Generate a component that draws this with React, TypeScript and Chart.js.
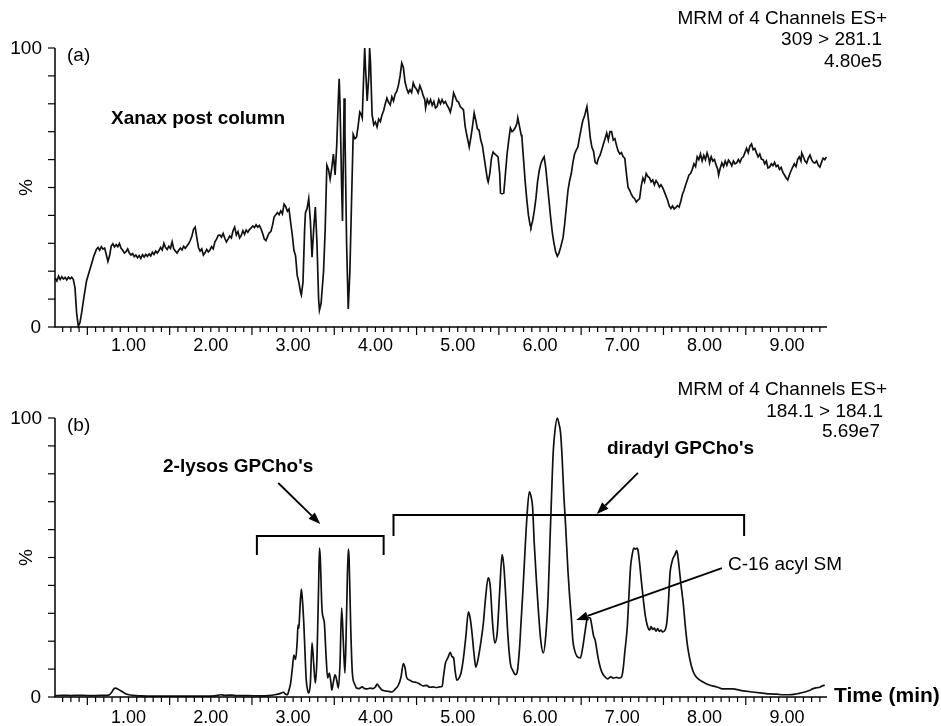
import React, { useEffect, useRef } from "react";
import { Chart, registerables } from "chart.js";

Chart.register(...registerables);

// ---------- DATA ----------
const topTime = [
  0.11, 0.13, 0.15, 0.17, 0.19, 0.21, 0.23, 0.25, 0.27, 0.29, 0.31, 0.33, 0.35, 0.37, 0.39, 0.41, 0.43, 0.46, 0.49, 0.52,
  0.55, 0.58, 0.61, 0.63, 0.65, 0.67, 0.69, 0.71, 0.73, 0.75, 0.77, 0.79, 0.81, 0.83, 0.85, 0.87, 0.89, 0.91, 0.93, 0.95,
  0.97, 0.99, 1.01, 1.03, 1.05, 1.07, 1.09, 1.11, 1.13, 1.15, 1.17, 1.19, 1.21, 1.23, 1.25, 1.27, 1.29, 1.31, 1.33, 1.35,
  1.37, 1.39, 1.41, 1.43, 1.45, 1.47, 1.49, 1.51, 1.53, 1.55, 1.57, 1.59, 1.61, 1.63, 1.65, 1.67, 1.69, 1.71, 1.73, 1.75,
  1.77, 1.79, 1.81, 1.83, 1.85, 1.87, 1.89, 1.91, 1.93, 1.95, 1.97, 1.99, 2.01, 2.03, 2.05, 2.07, 2.09, 2.11, 2.13, 2.15,
  2.17, 2.19, 2.21, 2.23, 2.25, 2.27, 2.29, 2.31, 2.33, 2.35, 2.37, 2.39, 2.41, 2.43, 2.45, 2.47, 2.49, 2.51, 2.53, 2.55,
  2.57, 2.59, 2.61, 2.63, 2.65, 2.67, 2.69, 2.71, 2.73, 2.75, 2.77, 2.79, 2.81, 2.83, 2.85, 2.87, 2.89, 2.91, 2.93, 2.95,
  2.97, 2.99, 3.01, 3.03, 3.05, 3.07, 3.09, 3.10, 3.12, 3.14, 3.15, 3.17, 3.19, 3.21, 3.23, 3.25, 3.27, 3.29, 3.31, 3.32,
  3.34, 3.37, 3.39, 3.41, 3.43, 3.45, 3.47, 3.49, 3.51, 3.53, 3.55, 3.56, 3.57, 3.59, 3.60, 3.61, 3.62, 3.63, 3.65, 3.67,
  3.69, 3.71, 3.73, 3.75, 3.77, 3.79, 3.81, 3.83, 3.84, 3.86, 3.87, 3.88, 3.90, 3.92, 3.93, 3.94, 3.96, 3.98, 4.00, 4.02,
  4.04, 4.06, 4.08, 4.10, 4.12, 4.14, 4.16, 4.18, 4.20, 4.22, 4.24, 4.26, 4.28, 4.30, 4.32, 4.34, 4.36, 4.38, 4.40, 4.42,
  4.44, 4.46, 4.48, 4.50, 4.52, 4.54, 4.56, 4.58, 4.60, 4.61, 4.63, 4.65, 4.67, 4.69, 4.71, 4.73, 4.75, 4.77, 4.79, 4.81,
  4.83, 4.85, 4.87, 4.89, 4.91, 4.93, 4.95, 4.97, 4.99, 5.01, 5.03, 5.05, 5.07, 5.09, 5.11, 5.13, 5.14, 5.16, 5.18, 5.20,
  5.22, 5.24, 5.26, 5.28, 5.30, 5.32, 5.34, 5.36, 5.37, 5.39, 5.41, 5.43, 5.45, 5.47, 5.49, 5.51, 5.52, 5.54, 5.56, 5.58,
  5.60, 5.62, 5.64, 5.66, 5.68, 5.70, 5.72, 5.73, 5.75, 5.77, 5.78, 5.80, 5.82, 5.84, 5.86, 5.88, 5.89, 5.91, 5.93, 5.95,
  5.97, 5.99, 6.01, 6.03, 6.05, 6.07, 6.09, 6.11, 6.13, 6.15, 6.17, 6.19, 6.21, 6.23, 6.25, 6.28, 6.30, 6.32, 6.34, 6.36,
  6.38, 6.40, 6.42, 6.44, 6.46, 6.48, 6.50, 6.52, 6.54, 6.57, 6.59, 6.61, 6.63, 6.65, 6.67, 6.69, 6.71, 6.73, 6.75, 6.77,
  6.79, 6.81, 6.83, 6.85, 6.87, 6.89, 6.91, 6.93, 6.95, 6.97, 6.99, 7.01, 7.03, 7.05, 7.07, 7.09, 7.11, 7.13, 7.15, 7.17,
  7.19, 7.21, 7.23, 7.25, 7.27, 7.29, 7.31, 7.33, 7.35, 7.37, 7.39, 7.41, 7.43, 7.45, 7.47, 7.49, 7.51, 7.53, 7.55, 7.57,
  7.59, 7.61, 7.63, 7.65, 7.67, 7.69, 7.71, 7.73, 7.75, 7.77, 7.79, 7.81, 7.83, 7.85, 7.87, 7.89, 7.91, 7.93, 7.95, 7.97,
  7.99, 8.01, 8.03, 8.05, 8.06, 8.08, 8.10, 8.12, 8.14, 8.16, 8.17, 8.19, 8.21, 8.23, 8.25, 8.27, 8.29, 8.31, 8.33, 8.35,
  8.37, 8.39, 8.41, 8.43, 8.45, 8.47, 8.49, 8.51, 8.53, 8.55, 8.57, 8.59, 8.61, 8.63, 8.65, 8.67, 8.69, 8.71, 8.73, 8.75,
  8.77, 8.79, 8.81, 8.83, 8.85, 8.87, 8.89, 8.91, 8.93, 8.95, 8.97, 8.99, 9.01, 9.03, 9.05, 9.07, 9.09, 9.11, 9.13, 9.15,
  9.17, 9.18, 9.20, 9.22, 9.24, 9.26, 9.28, 9.30, 9.32, 9.34, 9.36, 9.38, 9.40, 9.42, 9.44, 9.46, 9.48,
];
const topIntensity = [
  17.5, 16.5, 18.2, 17.0, 18.0, 17.2, 17.8, 16.9, 17.9, 17.3, 17.8, 17.0, 14.0, 5.0, 0.3, 1.5, 5.0, 11.0, 16.5, 19.5,
  22.5, 25.5, 27.8, 28.5, 27.5, 28.8, 27.9, 28.3, 26.0, 23.5, 25.5, 29.0, 29.8, 28.7, 29.5, 28.8, 29.9, 28.2, 27.5, 26.5,
  27.0, 28.0, 26.5, 25.8, 26.3, 25.2, 25.8, 24.8, 25.6, 24.6, 25.9, 25.1, 26.0, 25.3, 26.2, 25.5, 26.8, 26.0, 27.2, 26.5,
  27.4, 28.5, 27.6, 30.0, 28.5, 27.8, 28.9, 28.2, 30.5, 28.0, 27.2, 26.5, 27.5, 28.3, 27.6, 28.9, 28.2, 29.0, 29.8, 31.0,
  32.5, 35.0, 35.8, 32.0, 28.5, 27.2, 28.0, 25.8, 26.6, 27.8, 26.9, 27.6, 28.8, 28.0, 30.5, 31.5, 32.8, 33.0, 32.2, 33.5,
  31.8, 30.5, 31.5, 32.6, 31.9, 34.5, 35.8, 33.0, 34.2, 31.9, 32.8, 34.5, 33.2, 34.8, 34.0, 34.9, 35.5, 36.2, 35.6, 36.6,
  35.8, 36.4, 35.2, 33.5, 31.5, 31.0, 32.5, 33.8, 34.2, 36.5, 39.5, 40.2, 41.0, 40.3, 41.6, 40.5, 44.0, 43.2, 41.5, 42.3,
  37.5, 33.0, 27.5, 25.5, 18.5, 16.0, 12.5, 11.5, 16.0, 35.0, 41.0, 42.5, 46.0, 38.0, 25.0, 35.0, 43.0, 30.0, 10.0, 6.0,
  8.5, 20.0, 35.0, 58.0, 56.5, 53.0, 57.0, 62.0, 54.5, 65.0, 82.0, 89.0, 80.0, 50.0, 38.0, 60.0, 82.0, 70.0, 30.0, 6.5,
  20.0, 45.0, 69.0, 67.5, 68.0, 72.0, 77.0, 76.0, 75.0, 92.0, 100.0, 93.0, 81.0, 90.0, 100.0, 95.0, 76.0, 72.5, 73.5, 71.7,
  74.5, 73.6, 76.0, 77.5, 80.0, 82.0, 80.5, 79.6, 82.5, 81.0, 83.5, 84.5, 86.7, 90.0, 94.6, 93.0, 87.8, 85.5, 83.9, 85.0,
  84.0, 87.5, 86.0, 85.2, 83.9, 86.5, 85.0, 83.0, 81.5, 78.5, 81.5, 80.0, 81.5, 79.5, 80.8, 78.5, 79.0, 81.5, 80.0, 81.5,
  80.2, 80.8, 79.5, 78.5, 77.0, 79.5, 83.9, 82.5, 81.0, 80.6, 79.0, 78.5, 77.8, 72.0, 68.8, 66.0, 64.5, 68.0, 72.0, 76.7,
  74.0, 71.0, 70.5, 67.0, 65.0, 61.0, 57.0, 53.0, 52.0, 55.0, 60.5, 62.7, 62.0, 61.5, 61.0, 55.0, 48.0, 47.7, 48.0, 55.0,
  62.0, 67.0, 71.3, 70.0, 70.5, 71.5, 73.0, 75.0, 72.0, 69.0, 68.0, 60.0, 52.0, 45.5, 40.0, 36.5, 35.8, 38.0, 41.5, 46.0,
  52.0, 56.0, 58.5, 60.0, 61.0, 57.0, 51.0, 45.0, 39.0, 33.7, 30.0, 27.0, 25.4, 26.5, 28.5, 32.0, 37.0, 43.0, 49.0, 52.5,
  55.0, 59.0, 62.0, 63.4, 64.5, 68.0, 71.0, 74.0, 75.5, 79.0, 74.0, 68.0, 64.5, 63.0, 59.0, 58.5, 60.5, 61.6, 63.5, 65.5,
  67.5, 69.5, 67.0, 70.0, 70.0, 67.0, 67.5, 65.0, 63.0, 62.0, 62.5, 61.0, 60.5, 55.0, 50.0, 49.0, 47.5, 46.5, 46.0, 44.8,
  45.5, 46.0, 50.5, 53.4, 52.0, 55.0, 54.0, 53.5, 52.0, 52.7, 51.0, 52.5, 51.6, 50.2, 51.0, 50.0, 48.5, 47.0, 45.5, 43.4,
  42.5, 43.4, 42.3, 42.8, 43.5, 43.0, 45.0, 47.5, 49.0, 51.0, 52.7, 54.5, 55.0, 56.5, 58.5, 57.5, 61.0, 60.0, 62.0, 59.5,
  61.5, 60.0, 62.4, 60.5, 58.8, 61.0, 59.5, 60.0, 58.0, 56.5, 54.5, 57.0, 58.8, 57.5, 59.5, 58.0, 59.8, 59.0, 57.8, 59.5,
  58.5, 58.8, 60.0, 59.0, 60.5, 61.0, 62.5, 64.0, 62.5, 64.8, 65.6, 63.5, 64.0, 62.4, 61.0, 62.0, 60.2, 60.0, 58.5, 59.5,
  57.0, 57.3, 58.5, 57.8, 59.0, 57.5, 58.0, 56.5, 57.2, 55.5, 54.5, 53.5, 52.7, 54.5, 56.0, 57.3, 58.5, 57.5, 60.0, 61.0,
  59.5, 62.4, 61.0, 59.5, 58.8, 60.5, 61.6, 60.0, 59.0, 58.8, 59.5, 58.0, 57.3, 59.0, 60.5, 60.0, 61.0,
];

const bottomTime = [
  0.11, 0.2, 0.3, 0.4, 0.5, 0.6, 0.7, 0.76, 0.79, 0.82, 0.84, 0.87, 0.9, 0.94, 0.98, 1.05, 1.15, 1.3, 1.5, 1.7,
  1.9, 2.05, 2.12, 2.18, 2.25, 2.32, 2.45, 2.6, 2.7, 2.78, 2.84, 2.88, 2.91, 2.93, 2.95, 2.97, 2.99, 3.01, 3.03, 3.05,
  3.06, 3.07, 3.08, 3.10, 3.11, 3.13, 3.15, 3.16, 3.18, 3.19, 3.21, 3.23, 3.25, 3.27, 3.29, 3.31, 3.32, 3.33, 3.35, 3.37,
  3.38, 3.40, 3.42, 3.44, 3.46, 3.47, 3.49, 3.51, 3.53, 3.55, 3.57, 3.59, 3.61, 3.63, 3.65, 3.67, 3.68, 3.70, 3.72, 3.75,
  3.77, 3.80, 3.84, 3.87, 3.90, 3.94, 3.97, 4.00, 4.02, 4.05, 4.08, 4.12, 4.16, 4.20, 4.24, 4.28, 4.31, 4.34, 4.36, 4.38,
  4.42, 4.46, 4.50, 4.54, 4.58, 4.62, 4.66, 4.70, 4.74, 4.78, 4.81, 4.83, 4.85, 4.88, 4.91, 4.93, 4.95, 4.97, 4.99, 5.01,
  5.04, 5.07, 5.10, 5.13, 5.15, 5.17, 5.20, 5.22, 5.25, 5.28, 5.31, 5.34, 5.37, 5.39, 5.40, 5.42, 5.45, 5.48, 5.51, 5.54,
  5.56, 5.58, 5.61, 5.64, 5.67, 5.70, 5.72, 5.75, 5.77, 5.79, 5.81, 5.84, 5.87, 5.89, 5.91, 5.93, 5.96, 5.98, 6.01, 6.04,
  6.07, 6.10, 6.12, 6.14, 6.16, 6.18, 6.21, 6.23, 6.25, 6.27, 6.29, 6.31, 6.34, 6.36, 6.38, 6.40, 6.42, 6.45, 6.49, 6.52,
  6.55, 6.57, 6.59, 6.61, 6.63, 6.65, 6.67, 6.70, 6.72, 6.75, 6.79, 6.82, 6.86, 6.89, 6.93, 6.96, 6.99, 7.01, 7.03, 7.06,
  7.08, 7.10, 7.12, 7.14, 7.16, 7.18, 7.19, 7.21, 7.23, 7.26, 7.28, 7.31, 7.33, 7.35, 7.37, 7.39, 7.41, 7.43, 7.45, 7.47,
  7.49, 7.52, 7.54, 7.56, 7.58, 7.60, 7.62, 7.64, 7.66, 7.67, 7.69, 7.71, 7.74, 7.77, 7.80, 7.84, 7.88, 7.93, 7.98, 8.05,
  8.15, 8.22, 8.34, 8.45, 8.58, 8.70, 8.80, 8.88, 8.95, 9.02, 9.10, 9.16, 9.22, 9.28, 9.31, 9.36, 9.40, 9.43, 9.46,
];
const bottomIntensity = [
  0.5, 0.6, 0.5, 0.6, 0.5, 0.5, 0.6, 0.7, 1.5, 2.8, 3.2, 2.9, 2.3, 1.6, 1.0, 0.6, 0.4, 0.3, 0.3, 0.3,
  0.3, 0.4, 0.8, 0.6, 0.7, 0.5, 0.5, 0.4, 0.5, 0.8, 1.2, 1.7, 1.0, 0.8, 2.5, 5.0, 10.0, 15.0, 13.5, 20.0,
  25.8, 24.7, 30.0, 38.7, 36.0, 26.5, 12.0, 6.0, 2.0, 1.4, 5.0, 19.4, 12.0, 5.0, 14.0, 40.0, 53.4, 50.0, 32.0, 28.0,
  26.5, 15.0, 6.8, 8.6, 5.0, 2.5, 5.5, 7.9, 6.0, 3.2, 12.0, 31.9, 20.0, 8.6, 30.0, 53.0, 50.0, 25.0, 8.6, 4.5,
  3.2, 3.0, 3.6, 3.0, 2.9, 3.2, 3.0, 3.6, 4.6, 3.5, 2.5, 2.2, 2.0, 1.8, 2.8, 4.3, 7.0, 12.0, 10.5, 7.0,
  6.0, 5.4, 5.2, 4.6, 4.0, 4.2, 3.5, 3.6, 3.4, 3.6, 3.8, 8.0, 12.0, 14.0, 16.0, 14.5, 14.0, 9.0, 6.0, 6.5,
  8.6, 14.0, 22.0, 30.5, 28.5, 24.0, 15.0, 10.7, 14.0, 19.4, 26.0, 36.0, 42.7, 41.0, 38.0, 28.0, 19.4, 23.0, 38.0, 51.0,
  47.0, 38.0, 22.0, 12.0, 9.5, 8.0, 8.6, 17.0, 27.0, 37.0, 48.0, 64.0, 73.5, 72.0, 68.0, 55.0, 40.0, 31.0, 20.0, 15.8,
  22.0, 37.0, 55.0, 72.0, 87.5, 95.0, 100.0, 98.0, 94.6, 85.0, 72.0, 62.0, 45.0, 36.0, 28.7, 20.0, 16.8, 14.5, 14.0, 18.0,
  24.0, 27.6, 28.5, 28.3, 25.5, 22.0, 20.4, 15.0, 12.0, 9.0, 7.2, 6.5, 7.2, 6.8, 7.0, 6.8, 7.2, 10.0, 16.0, 25.0,
  36.0, 46.6, 51.0, 53.4, 53.0, 53.4, 52.7, 48.0, 42.0, 33.7, 29.0, 25.0, 24.0, 25.2, 24.2, 24.7, 23.6, 24.5, 23.5, 24.0,
  23.3, 24.0, 26.5, 34.0, 44.4, 48.0, 50.0, 51.0, 52.5, 51.5, 46.6, 41.0, 33.7, 24.0, 16.8, 11.0, 7.9, 6.3, 5.4, 4.4,
  3.6, 2.9, 2.9, 2.3, 1.8, 1.4, 1.1, 1.0, 0.8, 0.8, 1.0, 1.4, 1.8, 2.4, 2.9, 3.3, 3.5, 4.0, 4.2,
];

const xTickLabels = ["1.00", "2.00", "3.00", "4.00", "5.00", "6.00", "7.00", "8.00", "9.00"];
const yTickLabels = ["0", "%", "100"];
const topHeader = ["MRM of 4 Channels ES+", "309 > 281.1", "4.80e5"];
const bottomHeader = ["MRM of 4 Channels ES+", "184.1 > 184.1", "5.69e7"];

// annotations (data coordinates)
const lysoBracket = { x1: 2.56, x2: 4.1, yTop: 57.7, yEnd: 50.9 };
const diradylBracket = { x1: 4.22, x2: 8.48, yTop: 65.2, yEnd: 57.7 };
const lysoArrow = { x1: 2.82, y1: 76.7, x2: 3.33, y2: 62.0 };
const diradylArrow = { x1: 7.19, y1: 80.3, x2: 6.69, y2: 65.6 };
const smArrow = { x1: 8.21, y1: 46.2, x2: 6.44, y2: 27.6 };

const X_MIN = 0.107;
const X_MAX = 9.487;
const FONT = '"Liberation Sans", Arial, Helvetica, sans-serif';

function drawArrow(ctx: CanvasRenderingContext2D, x1: number, y1: number, x2: number, y2: number) {
  const ang = Math.atan2(y2 - y1, x2 - x1);
  const hl = 12;
  const hw = 4.5;
  const bx = x2 - hl * Math.cos(ang);
  const by = y2 - hl * Math.sin(ang);
  ctx.beginPath();
  ctx.moveTo(x1, y1);
  ctx.lineTo(bx, by);
  ctx.lineWidth = 1.8;
  ctx.stroke();
  ctx.beginPath();
  ctx.moveTo(x2, y2);
  ctx.lineTo(bx + hw * Math.sin(ang), by - hw * Math.cos(ang));
  ctx.lineTo(bx - hw * Math.sin(ang), by + hw * Math.cos(ang));
  ctx.closePath();
  ctx.fill();
}

type PanelOpts = {
  panelLabel: string;
  header: string[];
  headerRight: number[];
  headerY: number[];
  labelOffset: number;
  extra?: (chart: any) => void;
};

function makeAxesPlugin(opts: PanelOpts) {
  return {
    id: "chromAxes",
    afterDraw(chart: any) {
      const ctx: CanvasRenderingContext2D = chart.ctx;
      const { left, right, top, bottom } = chart.chartArea;
      const xs = chart.scales.x;
      const ys = chart.scales.y;
      ctx.save();
      ctx.strokeStyle = "#000";
      ctx.fillStyle = "#000";
      ctx.lineWidth = 1.5;
      ctx.beginPath();
      ctx.moveTo(left, top);
      ctx.lineTo(left, bottom);
      ctx.lineTo(right, bottom);
      ctx.stroke();
      ctx.lineWidth = 1.2;
      for (let v = 0; v <= 100; v += 10) {
        const py = ys.getPixelForValue(v);
        ctx.beginPath();
        ctx.moveTo(left - 7, py);
        ctx.lineTo(left, py);
        ctx.stroke();
      }
      for (let i = 2; i <= 94; i++) {
        const px = xs.getPixelForValue(i / 10);
        const len = i % 10 === 5 ? 8 : 5;
        ctx.beginPath();
        ctx.moveTo(px, bottom);
        ctx.lineTo(px, bottom + len);
        ctx.stroke();
      }
      ctx.font = `18px ${FONT}`;
      ctx.textAlign = "center";
      ctx.textBaseline = "middle";
      xTickLabels.forEach((lab) => {
        const px = xs.getPixelForValue(parseFloat(lab));
        ctx.fillText(lab, px, bottom + opts.labelOffset);
      });
      ctx.font = `19px ${FONT}`;
      ctx.textAlign = "right";
      ctx.fillText(yTickLabels[2], left - 13, ys.getPixelForValue(100) + 1);
      ctx.fillText(yTickLabels[0], left - 14, ys.getPixelForValue(0) + 1);
      ctx.save();
      ctx.translate(27, ys.getPixelForValue(50));
      ctx.rotate(-Math.PI / 2);
      ctx.textAlign = "center";
      ctx.fillText(yTickLabels[1], 0, 0);
      ctx.restore();
      ctx.textAlign = "left";
      ctx.fillText(opts.panelLabel, left + 12, top + 8);
      ctx.textAlign = "right";
      opts.header.forEach((line, i) => {
        ctx.fillText(line, opts.headerRight[i], opts.headerY[i]);
      });
      if (opts.extra) opts.extra(chart);
      ctx.restore();
    },
  };
}

function buildChart(
  canvas: HTMLCanvasElement,
  times: number[],
  values: number[],
  padding: any,
  smooth: boolean,
  opts: PanelOpts
) {
  const data = times.map((t, i) => ({ x: t, y: values[i] }));
  return new Chart(canvas, {
    type: "line",
    data: {
      datasets: [
        {
          data,
          borderColor: "#111",
          borderWidth: 1.7,
          pointRadius: 0,
          tension: smooth ? 0.4 : 0,
          cubicInterpolationMode: smooth ? "monotone" : "default",
          fill: false,
          clip: 6,
        } as any,
      ],
    },
    options: {
      responsive: false,
      animation: false,
      devicePixelRatio: 1,
      layout: { padding },
      plugins: { legend: { display: false }, tooltip: { enabled: false }, title: { display: false } },
      events: [],
      scales: {
        x: { type: "linear", min: X_MIN, max: X_MAX, display: false },
        y: { type: "linear", min: 0, max: 100, display: false },
      },
    },
    plugins: [makeAxesPlugin(opts)],
  } as any);
}

export default function App() {
  const topRef = useRef<HTMLCanvasElement>(null);
  const botRef = useRef<HTMLCanvasElement>(null);

  useEffect(() => {
    const c1 = buildChart(
      topRef.current!,
      topTime,
      topIntensity,
      { left: 55, right: 114, top: 48, bottom: 36 },
      false,
      {
        panelLabel: "(a)",
        header: topHeader,
        headerRight: [887, 882, 882],
        headerY: [19, 40, 62],
        labelOffset: 19,
        extra: (chart: any) => {
          const ctx: CanvasRenderingContext2D = chart.ctx;
          ctx.font = `bold 19px ${FONT}`;
          ctx.textAlign = "left";
          ctx.textBaseline = "middle";
          ctx.fillText("Xanax post column", 111, 119);
        },
      }
    );
    const c2 = buildChart(
      botRef.current!,
      bottomTime,
      bottomIntensity,
      { left: 55, right: 114, top: 55, bottom: 29 },
      true,
      {
        panelLabel: "(b)",
        header: bottomHeader,
        headerRight: [887, 883, 880],
        headerY: [27, 49, 69],
        labelOffset: 21,
        extra: (chart: any) => {
          const ctx: CanvasRenderingContext2D = chart.ctx;
          const xs = chart.scales.x;
          const ys = chart.scales.y;
          const X = (v: number) => xs.getPixelForValue(v);
          const Y = (v: number) => ys.getPixelForValue(v);
          ctx.lineWidth = 2;
          ctx.strokeStyle = "#000";
          [lysoBracket, diradylBracket].forEach((b) => {
            ctx.beginPath();
            ctx.moveTo(X(b.x1), Y(b.yEnd));
            ctx.lineTo(X(b.x1), Y(b.yTop));
            ctx.lineTo(X(b.x2), Y(b.yTop));
            ctx.lineTo(X(b.x2), Y(b.yEnd));
            ctx.stroke();
          });
          [lysoArrow, diradylArrow, smArrow].forEach((a) => {
            drawArrow(ctx, X(a.x1), Y(a.y1), X(a.x2), Y(a.y2));
          });
          ctx.textAlign = "left";
          ctx.textBaseline = "middle";
          ctx.font = `bold 19px ${FONT}`;
          ctx.fillText("2-lysos GPCho's", 163, 104);
          ctx.fillText("diradyl GPCho's", 607, 86);
          ctx.font = `19px ${FONT}`;
          ctx.fillText("C-16 acyl SM", 728, 202);
          ctx.font = `bold 21px ${FONT}`;
          ctx.fillText("Time (min)", 834, 333);
        },
      }
    );
    return () => {
      c1.destroy();
      c2.destroy();
    };
  }, []);

  return (
    <div style={{ position: "absolute", left: 0, top: 0, width: 941, height: 726, background: "#fff" }}>
      <canvas ref={topRef} width={941} height={363} style={{ display: "block", width: 941, height: 363 }} />
      <canvas ref={botRef} width={941} height={363} style={{ display: "block", width: 941, height: 363 }} />
    </div>
  );
}
